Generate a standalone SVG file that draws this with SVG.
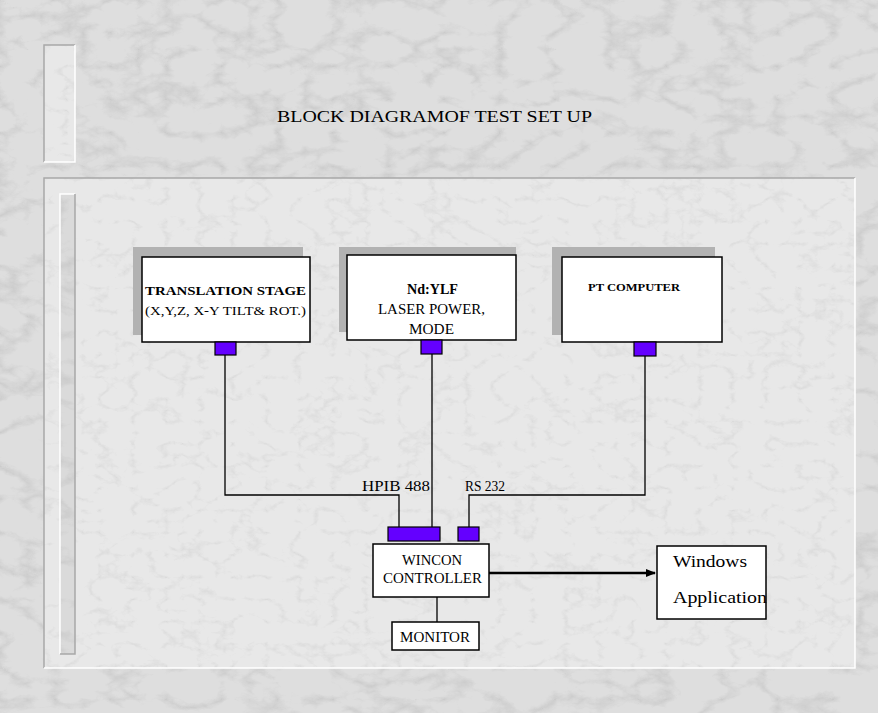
<svg xmlns="http://www.w3.org/2000/svg" width="878" height="713" viewBox="0 0 878 713">
<defs>
<filter id="marble" x="0" y="0" width="100%" height="100%">
<feTurbulence type="turbulence" baseFrequency="0.018 0.03" numOctaves="5" seed="7" result="n"/>
<feColorMatrix in="n" type="matrix" values="0 0 0 0 0.5  0 0 0 0 0.5  0 0 0 0 0.5  -1.8 0 0 0 0.55" result="v"/>
<feComposite in="v" in2="SourceGraphic" operator="in"/>
</filter>
<filter id="marble2" x="0" y="0" width="100%" height="100%">
<feTurbulence type="turbulence" baseFrequency="0.03 0.045" numOctaves="4" seed="3" result="n"/>
<feColorMatrix in="n" type="matrix" values="0 0 0 0 0.55  0 0 0 0 0.55  0 0 0 0 0.55  -1.5 0 0 0 0.35" result="v"/>
<feComposite in="v" in2="SourceGraphic" operator="in"/>
</filter>
<marker id="arr" viewBox="0 0 10 10" refX="9" refY="5" markerWidth="4" markerHeight="4" orient="auto" markerUnits="strokeWidth">
<path d="M0,1 L10,5 L0,9 Z" fill="#000"/>
</marker>
<style>
.box{fill:#fff;stroke:#000;stroke-width:1.5}
.sh{fill:#b2b2b2}
.port{fill:#6400ff;stroke:#000;stroke-width:1.2}
.ln{fill:none;stroke:#000;stroke-width:1.3}
text{font-family:"Liberation Serif","Times New Roman",serif;fill:#000}
.b{font-weight:bold}
</style>
</defs>
<rect width="878" height="713" fill="#dedede"/>
<rect width="878" height="713" fill="#fff" filter="url(#marble)"/>
<!-- top-left small panel -->
<g id="panel-top">
<rect x="44" y="45" width="31" height="117" fill="#e8e8e8"/>
<rect x="44" y="45" width="31" height="117" fill="#fff" filter="url(#marble2)"/>
<path d="M44,162 V45 H75" fill="none" stroke="#a8a8a8" stroke-width="1.5"/>
<path d="M75,45 V162 H44" fill="none" stroke="#fff" stroke-width="1.5"/>
</g>
<!-- main panel -->
<g id="panel-main">
<rect x="44" y="178" width="811" height="490" fill="#e8e8e8"/>
<rect x="44" y="178" width="811" height="490" fill="#fff" filter="url(#marble2)"/>
<path d="M44,668 V178 H855" fill="none" stroke="#a8a8a8" stroke-width="1.5"/>
<path d="M855,178 V668 H44" fill="none" stroke="#fff" stroke-width="1.5"/>
<rect x="60" y="194" width="15" height="460" fill="#dadada"/>
<rect x="60" y="194" width="15" height="460" fill="#fff" filter="url(#marble)"/>
<path d="M60,654 V194 H75" fill="none" stroke="#fff" stroke-width="1.5"/>
<path d="M75,194 V654 H60" fill="none" stroke="#a8a8a8" stroke-width="1.5"/>
</g>
<g id="title">
<text x="277" y="122" font-size="16" textLength="315" lengthAdjust="spacingAndGlyphs">BLOCK DIAGRAMOF TEST SET UP</text>
</g>
<g id="connectors">
<path class="ln" d="M225,355 V495 H399 V527"/>
<path class="ln" d="M432,354 V527"/>
<path class="ln" d="M645,356 V495 H469 V527"/>
<path class="ln" d="M437,597 V622"/>
<path d="M489,573 H655" fill="none" stroke="#000" stroke-width="2.5" marker-end="url(#arr)"/>
<text x="362" y="491" font-size="14" textLength="68" lengthAdjust="spacingAndGlyphs">HPIB 488</text>
<text x="465" y="491" font-size="14" textLength="40" lengthAdjust="spacingAndGlyphs">RS 232</text>
</g>
<g id="translation-stage">
<rect class="sh" x="133" y="247" width="170" height="88"/>
<rect class="box" x="142" y="257" width="168" height="85"/>
<rect class="port" x="215" y="342" width="21" height="13"/>
<text class="b" x="145" y="295" font-size="13" textLength="161" lengthAdjust="spacingAndGlyphs">TRANSLATION STAGE</text>
<text x="145" y="315" font-size="13" textLength="161" lengthAdjust="spacingAndGlyphs">(X,Y,Z, X-Y TILT&amp; ROT.)</text>
</g>
<g id="ndylf">
<rect class="sh" x="339" y="247" width="177" height="85"/>
<rect class="box" x="347" y="255" width="169" height="85"/>
<rect class="port" x="421" y="340" width="21" height="14"/>
<text class="b" x="407" y="294" font-size="14" textLength="51" lengthAdjust="spacingAndGlyphs">Nd:YLF</text>
<text x="378" y="314" font-size="14" textLength="107" lengthAdjust="spacingAndGlyphs">LASER POWER,</text>
<text x="409" y="334" font-size="14" textLength="45" lengthAdjust="spacingAndGlyphs">MODE</text>
</g>
<g id="pt-computer">
<rect class="sh" x="552" y="247" width="163" height="88"/>
<rect class="box" x="562" y="257" width="160" height="85"/>
<rect class="port" x="634" y="342" width="22" height="14"/>
<text class="b" x="588" y="291" font-size="10" textLength="92" lengthAdjust="spacingAndGlyphs">PT COMPUTER</text>
</g>
<g id="wincon-controller">
<rect class="port" x="388" y="527" width="52" height="14"/>
<rect class="port" x="458" y="527" width="21" height="14"/>
<rect class="box" x="373" y="544" width="116" height="53"/>
<text x="402" y="565" font-size="14" textLength="60" lengthAdjust="spacingAndGlyphs">WINCON</text>
<text x="383" y="583" font-size="14" textLength="99" lengthAdjust="spacingAndGlyphs">CONTROLLER</text>
</g>
<g id="monitor">
<rect class="box" x="392" y="622" width="87" height="28"/>
<text x="400" y="642" font-size="14" textLength="70" lengthAdjust="spacingAndGlyphs">MONITOR</text>
</g>
<g id="windows-application">
<rect class="box" x="657" y="546" width="109" height="73"/>
<text x="673" y="567" font-size="16" textLength="74" lengthAdjust="spacingAndGlyphs">Windows</text>
<text x="673" y="603" font-size="16" textLength="94" lengthAdjust="spacingAndGlyphs">Application</text>
</g>
</svg>
